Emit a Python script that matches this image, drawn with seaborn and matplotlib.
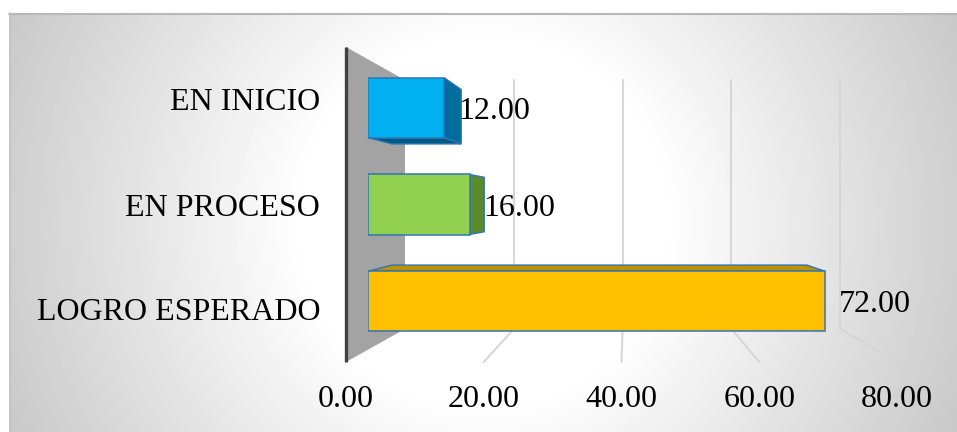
import numpy as np
import matplotlib
matplotlib.use("Agg")
import matplotlib.pyplot as plt
from matplotlib.patches import Polygon
import seaborn as sns

# ---- data ----
categories = ["EN INICIO", "EN PROCESO", "LOGRO ESPERADO"]
values = [12.00, 16.00, 72.00]
front_colors = ["#00b0f0", "#92d050", "#ffc000"]
side_colors = ["#006d9c", "#5a8a2c", "#c09000"]
cap_colors = ["#005a82", "#4f7a26", "#bf9000"]
xticks = [0, 20, 40, 60, 80]
xtick_labels = ["0.00", "20.00", "40.00", "60.00", "80.00"]

sns.set_theme(style="white")
plt.rcParams["font.family"] = ["Liberation Serif", "DejaVu Serif"]

FW, FH = 957, 432
FS = 23
fig = plt.figure(figsize=(FW / 100, FH / 100), dpi=100)

# ---- background with radial gradient ----
bg = fig.add_axes([0, 0, 1, 1], zorder=-10)
yy, xx = np.mgrid[0:FH, 0:FW]
r = np.hypot(xx - 483, yy - 222)
val = np.clip(255 - 0.162 * np.clip(r - 180, 0, None), 0, 255) / 255.0
val[(xx < 9) | (yy < 13)] = 1.0
bg.imshow(val, cmap="gray", vmin=0, vmax=1, extent=(0, FW, FH, 0), aspect="auto",
          interpolation="bilinear")
bg.plot([9, FW], [13.5, 13.5], color="#b8b8b8", lw=1.5)
bg.plot([9.5, 9.5], [13, FH], color="#c4c4c4", lw=1.2)
bg.set_xlim(0, FW)
bg.set_ylim(FH, 0)
bg.axis("off")

# ---- front plane axes (pixel box 346..897, 47..362) ----
L, R, T, Bt = 346, 897, 47, 362
axL, axB, axW, axH = L / FW, 1 - Bt / FH, (R - L) / FW, (Bt - T) / FH
ax = fig.add_axes([axL, axB, axW, axH])
ax.set_facecolor("none")
n = len(categories)
ax.set_xlim(0, 80)
ax.set_ylim(n - 0.5, -0.5)

# perspective parameters
vx, vy = 40.8, 1.0      # vanishing point in data coords
s_wall = 0.79           # back wall depth scale
s_f, s_b = 0.922, 0.836  # bar front / back depth scales
half = 0.31


def proj(x, y, s):
    return (vx + s * (x - vx), vy + s * (y - vy))


ytop, ybot = -0.5, n - 0.5

# gridlines on back wall + floor lines
for v in xticks[1:]:
    bx, bt = proj(v, ytop, s_wall)
    _, bb = proj(v, ybot, s_wall)
    ax.plot([bx, bx], [bt, bb], color="#d6d6d6", lw=1.4, zorder=1)
    ax.plot([bx, v], [bb, ybot], color="#d6d6d6", lw=1.4, zorder=1, clip_on=False)

# side wall
wall = [(0, ytop), proj(0, ytop, s_wall), proj(0, ybot, s_wall), (0, ybot)]
ax.add_patch(Polygon(wall, closed=True, facecolor="#a3a3a3", edgecolor="none",
                     zorder=2, clip_on=False))
ax.plot([0, 0], [ytop, ybot], color="#404040", lw=2.4, zorder=3, clip_on=False,
        solid_capstyle="butt")

# bar side / cap faces
edge = "#2e75b6"
for i, v in enumerate(values):
    c = i
    if v < vx:
        face = [proj(v, c - half, s_f), proj(v, c - half, s_b),
                proj(v, c + half, s_b), proj(v, c + half, s_f)]
        ax.add_patch(Polygon(face, closed=True, facecolor=side_colors[i],
                             edgecolor=edge, lw=1.0, zorder=4))
    if c - half > vy:
        face = [proj(0, c - half, s_f), proj(v, c - half, s_f),
                proj(v, c - half, s_b), proj(0, c - half, s_b)]
        ax.add_patch(Polygon(face, closed=True, facecolor=cap_colors[i],
                             edgecolor=edge, lw=1.0, zorder=4))
    if c + half < vy:
        face = [proj(0, c + half, s_f), proj(v, c + half, s_f),
                proj(v, c + half, s_b), proj(0, c + half, s_b)]
        ax.add_patch(Polygon(face, closed=True, facecolor=cap_colors[i],
                             edgecolor=edge, lw=1.0, zorder=4))
    lx, ly = proj(v, c, s_f)
    ax.text(lx + 2.0, ly, f"{v:.2f}", ha="left", va="center_baseline",
            fontsize=FS, color="black", zorder=10)

ax.set_xticks(xticks)
ax.set_xticklabels(xtick_labels, fontsize=FS)
ax.set_yticks(range(n))
ax.set_yticklabels(categories, fontsize=FS)
ax.tick_params(axis="x", length=0, pad=16.5, colors="black")
ax.tick_params(axis="y", length=0, pad=18.5, colors="black")
for sp in ax.spines.values():
    sp.set_visible(False)
ax.grid(False)

# ---- bar front faces plane axes ----
vfx = axL + axW * (vx - 0) / 80
vfy = axB + axH * (ybot - vy) / n
iL = vfx + s_f * (axL - vfx)
iB = vfy + s_f * (axB - vfy)
ax2 = fig.add_axes([iL, iB, s_f * axW, s_f * axH], zorder=5)
ax2.set_facecolor("none")
sns.barplot(x=values, y=categories, hue=categories, palette=front_colors,
            orient="h", width=2 * half, edgecolor=edge, linewidth=1.1,
            saturation=1, legend=False, ax=ax2)
ax2.set_xlim(0, 80)
ax2.set_ylim(n - 0.5, -0.5)
ax2.axis("off")

fig.savefig("out.png", dpi=100)
